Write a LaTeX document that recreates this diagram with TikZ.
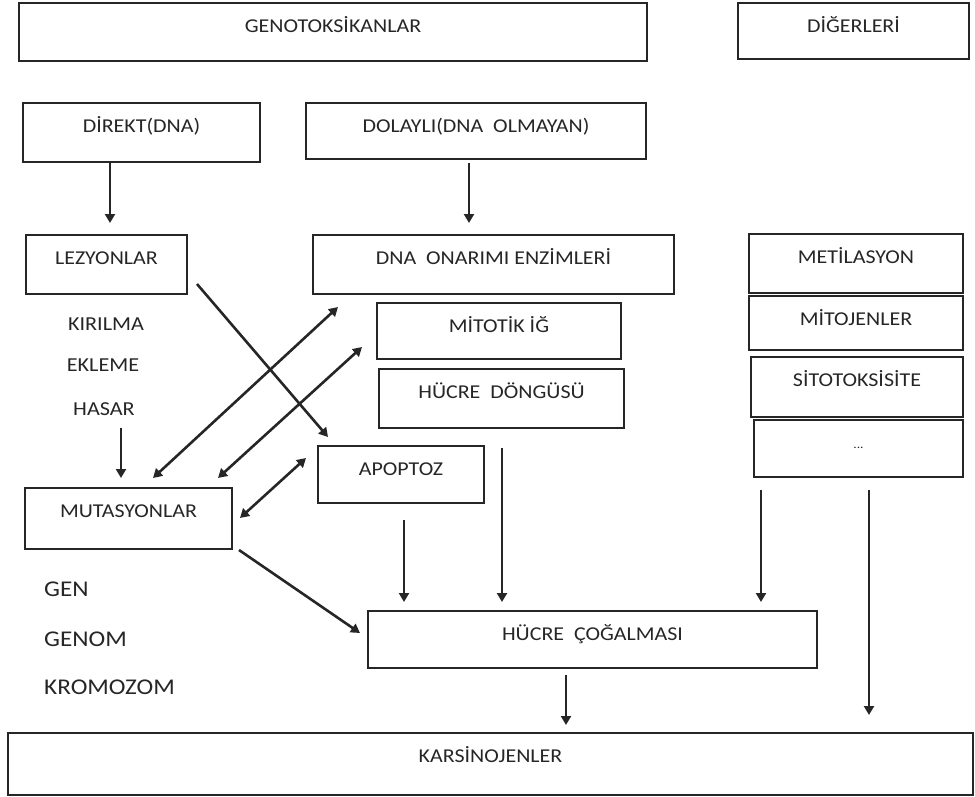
\documentclass[tikz,border=0pt]{standalone}
\usepackage{fontspec}
\setmainfont{Carlito}[FakeStretch=1.12]
\usetikzlibrary{arrows.meta,calc}
\begin{document}
\begin{tikzpicture}[x=1pt,y=-1pt,
  boxst/.style={draw=black!85, line width=1.4pt, inner sep=0pt, outer sep=0pt, anchor=north west},
  lbl/.style={anchor=base, yshift=-29pt, text=black!85, inner sep=0pt, font=\fontsize{19.6}{22}\selectfont},
  dotlbl/.style={anchor=base, yshift=-28pt, text=black!85, inner sep=0pt, font=\fontsize{12}{14}\selectfont},
  txt/.style={text=black!85, inner sep=0pt, anchor=base, font=\fontsize{19.8}{22}\selectfont},
  bigtxt/.style={text=black!85, inner sep=0pt, anchor=base west, font=\fontsize{22.5}{25}\selectfont},
  arr/.style={draw=black!85, line width=2.6pt, -{Triangle[length=9pt,width=10pt]}},
  darr/.style={draw=black!85, line width=2.6pt, {Triangle[length=9pt,width=10pt]}-{Triangle[length=9pt,width=10pt]}}]
\useasboundingbox (0,0) rectangle (975,796);

% boxes
\node[boxst, minimum width=628pt, minimum height=58pt, label={[lbl]north:GENOTOKSİKANLAR}] (geno) at (19,3) {};
\node[boxst, minimum width=231pt, minimum height=56pt, label={[lbl]north:DİĞERLERİ}] (dig) at (738,3) {};
\node[boxst, minimum width=237pt, minimum height=59pt, label={[lbl]north:DİREKT(DNA)}] (direkt) at (23,103) {};
\node[boxst, minimum width=340pt, minimum height=56pt, label={[lbl]north:DOLAYLI(DNA\ \ OLMAYAN)}] (dolayli) at (306,103) {};
\node[boxst, minimum width=161pt, minimum height=59pt, label={[lbl]north:LEZYONLAR}] (lez) at (26,235) {};
\node[boxst, minimum width=361pt, minimum height=59pt, label={[lbl]north:DNA\ \ ONARIMI ENZİMLERİ}] (onarim) at (313,235) {};
\node[boxst, minimum width=214pt, minimum height=59pt, label={[lbl]north:METİLASYON}] (metil) at (749,234) {};
\node[boxst, minimum width=244pt, minimum height=56pt, label={[lbl]north:MİTOTİK İĞ}] (mitotik) at (377,303) {};
\node[boxst, minimum width=214pt, minimum height=54pt, label={[lbl]north:MİTOJENLER}] (mitojen) at (749,296) {};
\node[boxst, minimum width=245pt, minimum height=59pt, label={[lbl]north:HÜCRE\ \ DÖNGÜSÜ}] (hucred) at (379,369) {};
\node[boxst, minimum width=212pt, minimum height=60pt, label={[lbl]north:SİTOTOKSİSİTE}] (sito) at (751,357) {};
\node[boxst, minimum width=209pt, minimum height=57pt, label={[dotlbl]north:...}] (dots) at (754,420) {};
\node[boxst, minimum width=166pt, minimum height=57pt, label={[lbl]north:APOPTOZ}] (apop) at (318,446) {};
\node[boxst, minimum width=207pt, minimum height=61pt, label={[lbl]north:MUTASYONLAR}] (mut) at (25,488) {};
\node[boxst, minimum width=449pt, minimum height=57pt, label={[lbl]north:HÜCRE\ \ ÇOĞALMASI}] (cog) at (368,611) {};
\node[boxst, minimum width=965pt, minimum height=62pt, label={[lbl]north:KARSİNOJENLER}] (kars) at (8,733) {};

% free texts
\node[txt] (kir) at (106,330) {KIRILMA};
\node[txt] (ekl) at (103,371) {EKLEME};
\node[txt] (hasar) at (104,415) {HASAR};
\node[bigtxt] (gen) at (44,596) {GEN};
\node[bigtxt] (genom) at (44,646) {GENOM};
\node[bigtxt] (krom) at (44,694) {KROMOZOM};

% arrows
\draw[arr] ([shift={(87,60)}]direkt.north west) -- ([shift={(84,-12)}]lez.north west);
\draw[arr] ([shift={(163,60)}]dolayli.north west) -- ([shift={(156,-12)}]onarim.north west);
\draw[arr] ([shift={(171,49)}]lez.north west) -- ([shift={(10,-9)}]apop.north west);
\draw[darr] ([shift={(128,-10)}]mut.north west) -- ([shift={(25,72)}]onarim.north west);
\draw[darr] ([shift={(193,-10)}]mut.north west) -- ([shift={(-15,44)}]mitotik.north west);
\draw[darr] ([shift={(215,30)}]mut.north west) -- ([shift={(-12,12)}]apop.north west);
\draw[arr] ([shift={(17,13)}]hasar.base) -- ([shift={(96,-10)}]mut.north west);
\draw[arr] ([shift={(86,74)}]apop.north west) -- ([shift={(36,-9)}]cog.north west);
\draw[arr] ([shift={(123,79)}]hucred.north west) -- ([shift={(134,-9)}]cog.north west);
\draw[arr] ([shift={(7,70)}]dots.north west) -- ([shift={(393,-9)}]cog.north west);
\draw[arr] ([shift={(115,70)}]dots.north west) -- ([shift={(861,-18)}]kars.north west);
\draw[arr] ([shift={(198,64)}]cog.north west) -- ([shift={(558,-8)}]kars.north west);
\draw[arr] ([shift={(214,62)}]mut.north west) -- ([shift={(-8,22)}]cog.north west);
\end{tikzpicture}
\end{document}
